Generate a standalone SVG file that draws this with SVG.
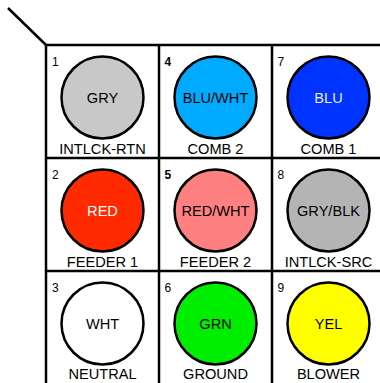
<svg xmlns="http://www.w3.org/2000/svg" width="380" height="383" viewBox="0 0 380 383">
<style>
.grid{stroke:#000;stroke-width:2.5;fill:none}
.pin{stroke:#000;stroke-width:2.5}
.num{font-family:"Liberation Sans",Arial,sans-serif;font-size:12px;fill:#000}
.b{font-weight:bold}
.clr{font-family:"Liberation Sans",Arial,sans-serif;font-size:14.6px;text-anchor:middle;fill:#000}
.lt{fill:#fff}
.lbl{font-family:"Liberation Sans",Arial,sans-serif;font-size:14.6px;text-anchor:middle;fill:#000}
</style>
<rect width="380" height="383" fill="#fff"/>
<g id="connectors">
<line class="grid" x1="8" y1="8" x2="46" y2="45"/>
</g>
<g id="grid">
<path class="grid" d="M46,384 V45 H385 M159,45 V384 M272,45 V384 M46,158 H385 M46,271 H385"/>
</g>
<g id="pin1">
<text class="num" x="52" y="65.5">1</text>
<circle class="pin" cx="102.5" cy="97.5" r="41" fill="#c8c8c8"/>
<text class="clr" x="102.5" y="102.5">GRY</text>
<text class="lbl" x="102.5" y="154">INTLCK-RTN</text>
</g>
<g id="pin4">
<text class="num b" x="164.5" y="65.5">4</text>
<circle class="pin" cx="215.5" cy="97.5" r="41" fill="#00aaff"/>
<text class="clr" x="215.5" y="102.5">BLU/WHT</text>
<text class="lbl" x="215.5" y="154">COMB 2</text>
</g>
<g id="pin7">
<text class="num" x="277.5" y="65.5">7</text>
<circle class="pin" cx="328.5" cy="97.5" r="41" fill="#0033ff"/>
<text class="clr lt" x="328.5" y="102.5" style="fill:#e8ecff">BLU</text>
<text class="lbl" x="328.5" y="154">COMB 1</text>
</g>
<g id="pin2">
<text class="num" x="52" y="178.5">2</text>
<circle class="pin" cx="102.5" cy="210.5" r="41" fill="#ff2a00"/>
<text class="clr lt" x="102.5" y="215.5">RED</text>
<text class="lbl" x="102.5" y="267">FEEDER 1</text>
</g>
<g id="pin5">
<text class="num b" x="164.5" y="178.5">5</text>
<circle class="pin" cx="215.5" cy="210.5" r="41" fill="#ff8080"/>
<text class="clr" x="215.5" y="215.5">RED/WHT</text>
<text class="lbl" x="215.5" y="267">FEEDER 2</text>
</g>
<g id="pin8">
<text class="num" x="277.5" y="178.5">8</text>
<circle class="pin" cx="328.5" cy="210.5" r="41" fill="#b4b4b4"/>
<text class="clr" x="328.5" y="215.5">GRY/BLK</text>
<text class="lbl" x="328.5" y="267">INTLCK-SRC</text>
</g>
<g id="pin3">
<text class="num" x="52" y="291.5">3</text>
<circle class="pin" cx="102.5" cy="323.5" r="41" fill="#ffffff"/>
<text class="clr" x="102.5" y="328.5">WHT</text>
<text class="lbl" x="102.5" y="379">NEUTRAL</text>
</g>
<g id="pin6">
<text class="num" x="164.5" y="291.5">6</text>
<circle class="pin" cx="215.5" cy="323.5" r="41" fill="#00ee00"/>
<text class="clr" x="215.5" y="328.5">GRN</text>
<text class="lbl" x="215.5" y="379">GROUND</text>
</g>
<g id="pin9">
<text class="num" x="277.5" y="291.5">9</text>
<circle class="pin" cx="328.5" cy="323.5" r="41" fill="#ffff00"/>
<text class="clr" x="328.5" y="328.5">YEL</text>
<text class="lbl" x="328.5" y="379">BLOWER</text>
</g>
</svg>
